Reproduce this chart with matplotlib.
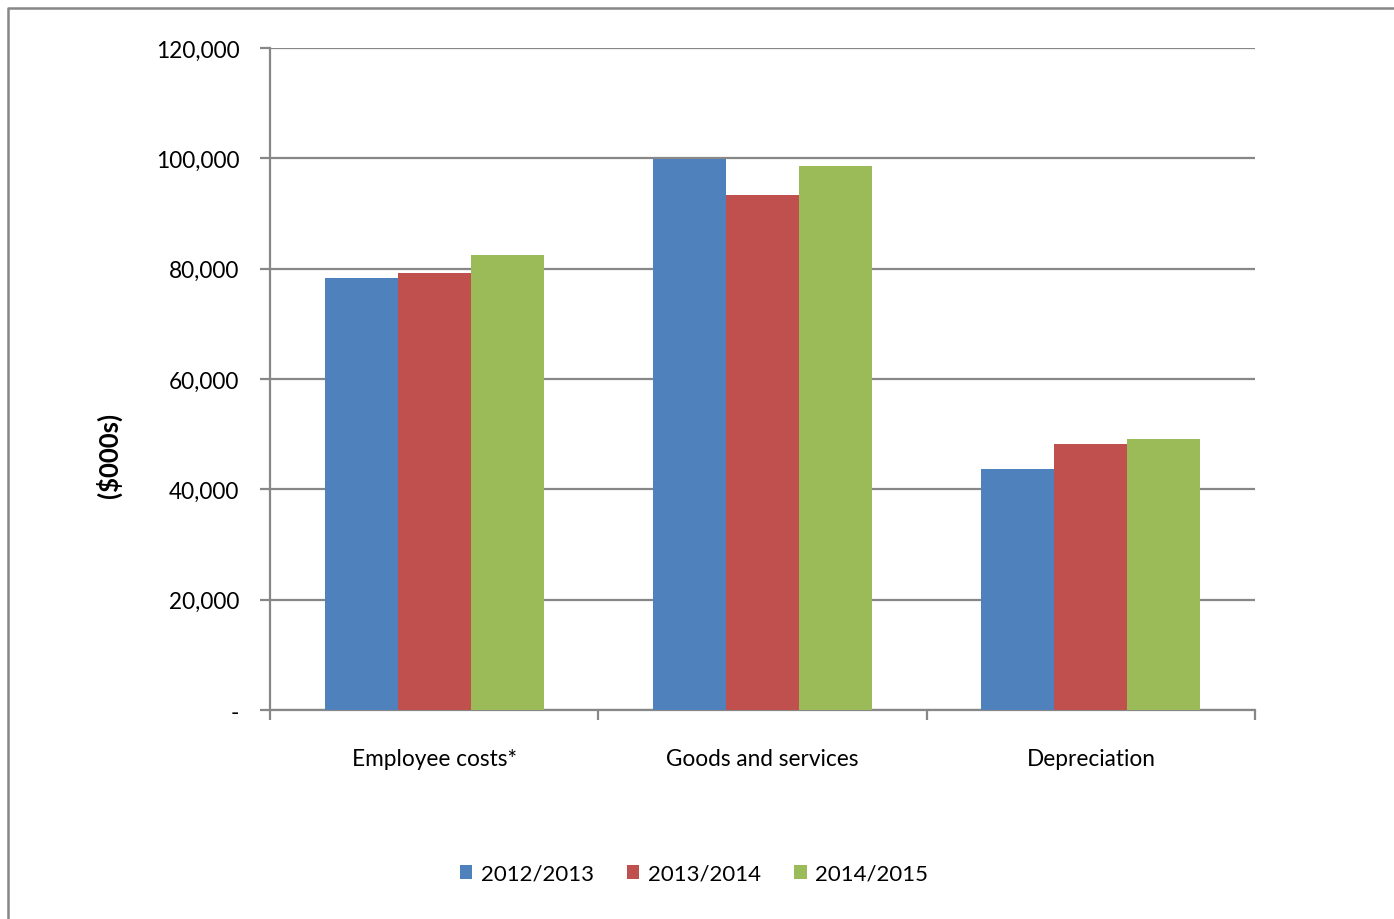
import numpy as np
import matplotlib.pyplot as plt
from matplotlib.lines import Line2D
from matplotlib.ticker import FuncFormatter

plt.rcParams['font.family'] = ['Lato', 'DejaVu Sans']

# Expense data ($000s)
categories = ['Employee costs*', 'Goods and services', 'Depreciation']
years = ['2012/2013', '2013/2014', '2014/2015']
fy2013 = [78250, 99800, 43700]
fy2014 = [79300, 93300, 48300]
fy2015 = [82400, 98700, 49100]
colors = ['#4F81BD', '#C0504D', '#9BBB59']

fig = plt.figure(figsize=(13.94, 9.2), dpi=100)
ax = fig.add_axes([270 / 1394, 1 - 711 / 920, 985 / 1394, 662 / 920])

x = np.arange(len(categories))
width = 0.222
for i, (vals, lab, c) in enumerate(zip([fy2013, fy2014, fy2015], years, colors)):
    ax.bar(x + (i - 1) * width, vals, width, color=c, label=lab, zorder=3,
           edgecolor='none')

ax.set_xlim(-0.5, 2.5)
ax.set_ylim(0, 120000)
ax.set_yticks(np.arange(0, 120001, 20000))
ax.yaxis.set_major_formatter(FuncFormatter(lambda v, p: '-' if v == 0 else f'{int(v):,}'))
ax.grid(axis='y', color='#878787', linewidth=1.6, zorder=0)
ax.set_axisbelow(True)

# category labels centred, tick marks on category boundaries
ax.set_xticks(x)
ax.set_xticklabels(categories, fontsize=16.3)
ax.tick_params(axis='x', length=0, pad=27)
ax.set_xticks(np.arange(-0.5, 2.6, 1.0), minor=True)
ax.tick_params(axis='x', which='minor', length=7, width=1.6, color='#878787')
ax.tick_params(axis='y', length=7, width=1.6, color='#878787', labelsize=16.3, pad=15)

for s in ['top', 'right']:
    ax.spines[s].set_visible(False)
for s in ['left', 'bottom']:
    ax.spines[s].set_color('#878787')
    ax.spines[s].set_linewidth(1.6)

ax.set_ylabel('($000s)', fontsize=18.5, fontweight='bold')
ax.yaxis.set_label_coords(-148 / 985, (711 - 455) / 662)

leg = fig.legend(loc='center', bbox_to_anchor=(694 / 1394, 1 - 875 / 920), ncol=3,
                 frameon=False, fontsize=16, handlelength=0.55, handleheight=0.55,
                 handletextpad=0.4, columnspacing=1.5)

# chart area border
fig.add_artist(Line2D([8 / 1394, 8 / 1394, 1.0], [0.0, 1 - 9 / 920, 1 - 9 / 920],
                      transform=fig.transFigure, color='#878787', linewidth=1.8))

fig.savefig('out.png', dpi=100)
